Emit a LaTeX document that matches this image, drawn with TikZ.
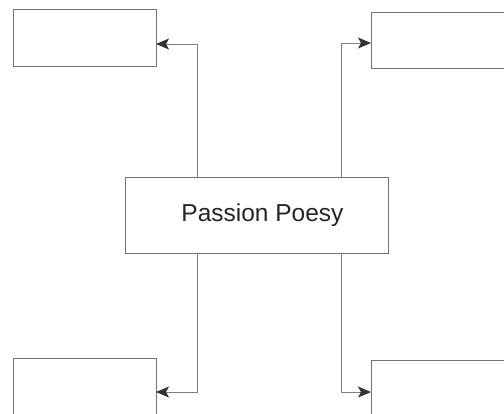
\documentclass[tikz,border=0pt]{standalone}
\usepackage{fontspec}
\setmainfont{Liberation Sans}
\usetikzlibrary{arrows.meta,calc}
\begin{document}
\begin{tikzpicture}[x=1bp,y=-1bp,
  box/.style={draw=black!55,line width=0.9bp,fill=white},
  conn/.style={draw=black!50,line width=0.9bp,-{Stealth[length=13bp,width=11bp,inset=3bp,color=black!80]}}]
\useasboundingbox (0,0) rectangle (504,413);
\clip (0,0) rectangle (504,413);
\draw[box] (125,177) rectangle (388,253);
\node[font=\fontsize{24.5bp}{28bp}\selectfont,text=black!85] (c) at (262.5,215) {Passion Poesy};
\draw[box] (13,9) rectangle (156,66);
\draw[box] (371,12) rectangle (520,68);
\draw[box] (13,358) rectangle (156,430);
\draw[box] (371,360) rectangle (520,430);
\coordinate (a1) at (197,177);
\coordinate (a2) at (341,177);
\coordinate (a3) at (197,253);
\coordinate (a4) at (341,253);
\coordinate (e1) at (156,44);
\coordinate (e2) at (371,43);
\coordinate (e3) at (156,392);
\coordinate (e4) at (371,392);
\draw[conn] (a1) |- (e1);
\draw[conn] (a2) |- (e2);
\draw[conn] (a3) |- (e3);
\draw[conn] (a4) |- (e4);
\end{tikzpicture}
\end{document}
